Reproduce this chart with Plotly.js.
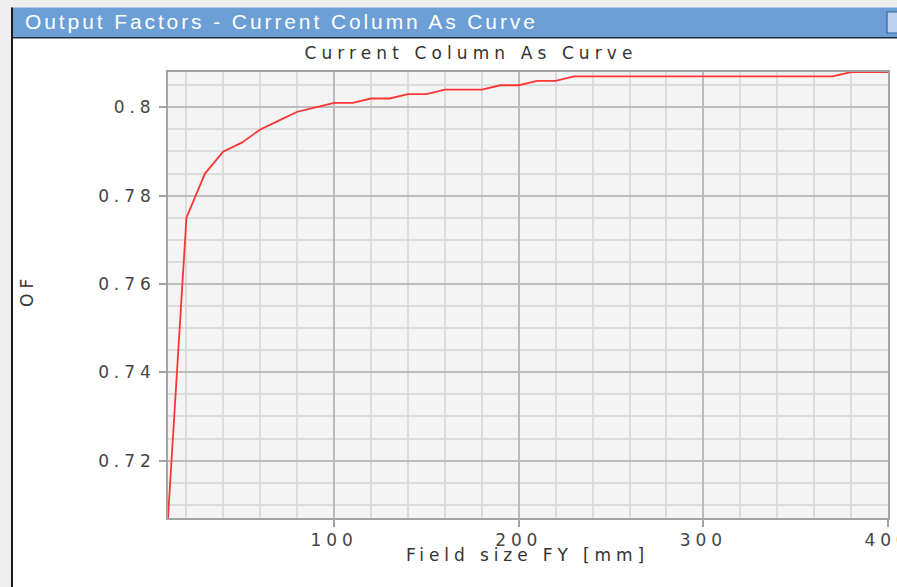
<!DOCTYPE html>
<html><head><meta charset="utf-8">
<script src="https://cdn.plot.ly/plotly-3.0.1.min.js"></script>
<style>
html,body{margin:0;padding:0;background:#fff;overflow:hidden}
#chart{width:897px;height:587px}
.main-svg text{letter-spacing:4.9px}
.main-svg text.gtitle{letter-spacing:5.1px}
.main-svg text[data-unformatted^="Output"]{letter-spacing:2.9px}
</style></head><body><div id="chart"></div>
<script>
// Data
const fieldSizeFY = [10,20,30,40,50,60,70,80,90,100,110,120,130,140,150,160,170,180,190,200,
  210,220,230,240,250,260,270,280,290,300,310,320,330,340,350,360,370,380,390,400];
const outputFactor = [0.707,0.775,0.785,0.790,0.792,0.795,0.797,0.799,0.800,0.801,0.801,0.802,0.802,0.803,0.803,0.804,0.804,0.804,0.805,0.805,
  0.806,0.806,0.807,0.807,0.807,0.807,0.807,0.807,0.807,0.807,0.807,0.807,0.807,0.807,0.807,0.807,0.807,0.808,0.808,0.808];
const xRange = [10, 400];
const yRange = [0.707, 0.808];

const windowTitle = 'Output Factors - Current Column As Curve';
const chartTitle = 'Current Column As Curve';
const xTitle = 'Field size FY [mm]';
const yTitle = 'OF';

// layout geometry (pixels)
const W = 897, H = 587, L = 168, R = 888, T = 72, B = 518;
const px = x => (x - L) / (R - L);
const py = y => (B - y) / (B - T);

const font = 'DejaVu Sans, Verdana, sans-serif';

const shapes = [
  // light grey outside frame (top strip and left strip)
  {type:'rect', xref:'paper', yref:'paper', x0:px(-2), x1:px(W+2), y0:py(7.5), y1:py(-2), fillcolor:'#eeeeee', line:{width:0}, layer:'above'},
  {type:'rect', xref:'paper', yref:'paper', x0:px(-2), x1:px(12), y0:py(H+2), y1:py(-2), fillcolor:'#eeeeee', line:{width:0}, layer:'above'},
  // blue window title bar
  {type:'rect', xref:'paper', yref:'paper', x0:px(12), x1:px(W+2), y0:py(37), y1:py(7.5), fillcolor:'#6c9fd6', line:{width:0}, layer:'above'},
  // dark border lines
  {type:'rect', xref:'paper', yref:'paper', x0:px(12), x1:px(W+2), y0:py(38.5), y1:py(37), fillcolor:'#1e2a3a', line:{width:0}, layer:'above'},
  {type:'rect', xref:'paper', yref:'paper', x0:px(11), x1:px(13), y0:py(H+2), y1:py(7.5), fillcolor:'#1a1a1a', line:{width:0}, layer:'above'},
  // window button
  {type:'rect', xref:'paper', yref:'paper', x0:px(887), x1:px(W+4), y0:py(33), y1:py(12), fillcolor:'#bcd3ef', line:{color:'#3b5f96', width:1.2}, layer:'above'}
];

const annotations = [
  {text: windowTitle, xref:'paper', yref:'paper', x:px(281), y:py(22), xanchor:'center', yanchor:'middle',
   showarrow:false, font:{family:'Liberation Sans, Arial, sans-serif', size:21, color:'#ffffff'}},
  {text: xTitle, xref:'paper', yref:'paper', x:px(527), y:py(555), xanchor:'center', yanchor:'middle',
   showarrow:false, font:{family:font, size:17, color:'#333333'}},
  {text: yTitle, xref:'paper', yref:'paper', x:px(27), y:py(291), xanchor:'center', yanchor:'middle', textangle:-90,
   showarrow:false, font:{family:font, size:17, color:'#333333'}}
];

const trace = {
  x: fieldSizeFY, y: outputFactor, type:'scatter', mode:'lines',
  line:{color:'#ff3535', width:1.8}, hoverinfo:'x+y'
};

const axisCommon = {
  showline:true, mirror:true, linecolor:'#a3a3a3', linewidth:2,
  showgrid:true, gridcolor:'#bcbcbc', gridwidth:2,
  zeroline:false, ticks:'outside', ticklen:7, tickwidth:2, tickcolor:'#a3a3a3',
  ticklabeloverflow:'allow',
  tickfont:{family:font, size:17, color:'#454545'}, fixedrange:true
};

const layout = {
  width: W, height: H,
  margin:{l:L, r:W-R, t:T, b:H-B, pad:0},
  paper_bgcolor:'#ffffff', plot_bgcolor:'#f4f4f4',
  showlegend:false,
  title:{text: chartTitle, font:{family:font, size:17, color:'#333333'},
         x:471/W, xref:'container', xanchor:'center', y:1-53/H, yref:'container', yanchor:'middle'},
  xaxis: Object.assign({}, axisCommon, {
    range: xRange, tick0:0, dtick:100, ticklabelstandoff:-1,
    minor:{tick0:0, dtick:20, showgrid:true, gridcolor:'#dcdcdc', gridwidth:2, ticks:''}
  }),
  yaxis: Object.assign({}, axisCommon, {
    range: yRange, tick0:0, dtick:0.02, ticklabelstandoff:0,
    minor:{tick0:0, dtick:0.005, showgrid:true, gridcolor:'#dcdcdc', gridwidth:2, ticks:''}
  }),
  shapes: shapes,
  annotations: annotations
};

Plotly.newPlot('chart', [trace], layout, {displayModeBar:false, staticPlot:false});
</script></body></html>
